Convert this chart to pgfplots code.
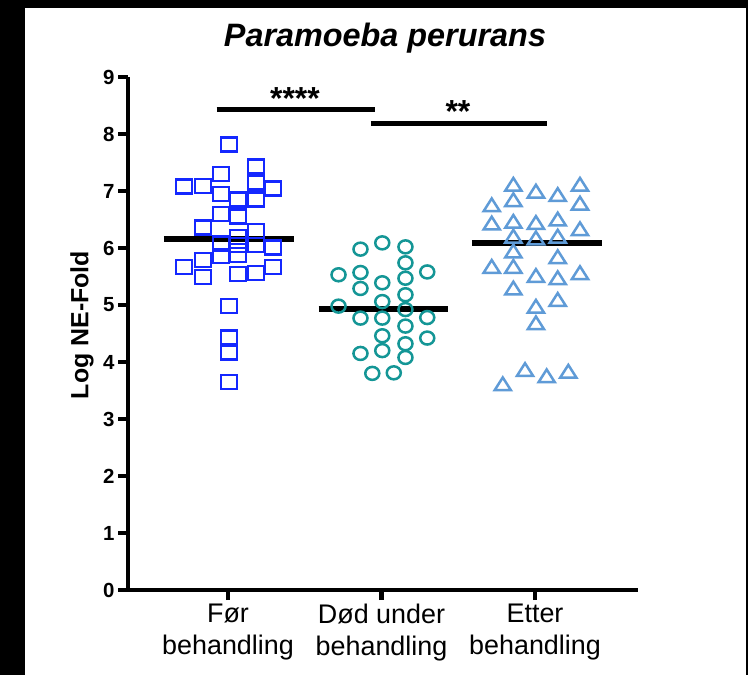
\documentclass[border=0pt]{standalone}
\usepackage{fontspec}
\setmainfont{Liberation Sans}
\usepackage{pgfplots}
\pgfplotsset{compat=1.18}
\definecolor{sqblue}{RGB}{20,40,255}
\definecolor{cteal}{RGB}{20,150,150}
\definecolor{tblue}{RGB}{95,155,215}
\begin{document}
\begin{tikzpicture}
\fill[black] (0bp,0bp) rectangle (748bp,675bp);
\fill[white] (25bp,0bp) rectangle (746bp,667bp);
\begin{axis}[
  at={(128bp,85bp)}, anchor=south west,
  scale only axis, width=510bp, height=513bp,
  xmin=0.3485, xmax=3.671, ymin=0, ymax=9,
  axis x line=bottom, axis y line=left,
  axis line style={line width=4.5bp,-},
  xtick={1,2,3},
  xticklabels={{Før\\behandling},{Død under\\behandling},{Etter\\behandling}},
  xticklabel style={align=center, font=\fontsize{27}{33}\selectfont},
  ytick={0,1,...,9},
  yticklabel style={font=\fontsize{20.5}{24}\selectfont\bfseries},
  /pgf/number format/assume math mode=true,
  tick align=outside, major tick length=10bp,
  tick style={line width=4.5bp, black},
  clip=false,
]
\addplot[only marks, mark=square, mark size=7bp, mark options={xscale=1.15, line width=2.5bp, draw=sqblue, fill=none}] coordinates {
(1.007,7.82) (1.182,7.43) (0.954,7.30) (1.182,7.15) (0.713,7.08) (0.837,7.09)
(1.293,7.04) (0.954,6.95) (1.065,6.85) (1.182,6.85) (0.954,6.60) (1.065,6.55)
(0.837,6.36) (1.182,6.30) (0.954,6.08) (1.065,6.19) (1.065,6.05) (1.182,6.05)
(1.293,6.01) (0.954,5.86) (1.065,5.88) (0.837,5.79) (0.713,5.67) (1.293,5.67)
(0.837,5.49) (1.065,5.54) (1.182,5.56) (1.007,4.98) (1.007,4.43) (1.007,4.17)
(1.007,3.65)};
\addplot[only marks, mark=o, mark size=6.5bp, mark options={xscale=1.08, line width=2.5bp, draw=cteal, fill=none}] coordinates {
(2.005,6.09) (1.863,5.98) (2.156,6.02) (2.156,5.74) (1.72,5.53) (1.863,5.57)
(2.298,5.58) (2.156,5.47) (2.005,5.39) (1.863,5.29) (2.156,5.18) (2.005,5.06)
(1.72,4.98) (2.156,4.92) (1.863,4.77) (2.005,4.77) (2.298,4.78) (2.156,4.63)
(2.005,4.46) (2.298,4.42) (2.156,4.32) (1.863,4.15) (2.005,4.20) (2.156,4.08)
(1.94,3.80) (2.08,3.81)};
\addplot[only marks, mark=triangle, mark size=8.5bp, mark options={xscale=1.1, line width=2.5bp, draw=tblue, fill=none}] coordinates {
(2.859,7.08) (3.293,7.08) (3.006,6.96) (3.148,6.90) (2.718,6.72) (2.859,6.81)
(3.293,6.75) (2.718,6.40) (2.859,6.43) (3.006,6.41) (3.148,6.47) (3.293,6.30)
(2.859,6.17) (3.006,6.14) (3.148,6.17) (2.859,5.91) (3.148,5.81) (2.718,5.64)
(2.859,5.64) (3.006,5.48) (3.148,5.44) (3.293,5.53) (2.859,5.26) (3.148,5.06)
(3.006,4.94) (3.006,4.65) (2.935,3.83) (3.076,3.72) (3.217,3.80) (2.79,3.58)};
\addplot[black, line width=6bp] coordinates {(0.583,6.16) (1.43,6.16)};
\addplot[black, line width=6bp] coordinates {(1.59,4.93) (2.43,4.93)};
\addplot[black, line width=6bp] coordinates {(2.588,6.08) (3.435,6.08)};
\addplot[black, line width=5bp] coordinates {(0.926,8.43) (1.958,8.43)};
\addplot[black, line width=5bp] coordinates {(1.930,8.19) (3.076,8.19)};
\node[font=\bfseries\fontsize{32}{32}\selectfont] at (axis cs:1.436,8.62) {****};
\node[font=\bfseries\fontsize{32}{32}\selectfont] at (axis cs:2.498,8.39) {**};
\end{axis}
\node[rotate=90, font=\bfseries\fontsize{25}{25}\selectfont] at (82bp,350bp) {Log NE-Fold};
\node[font=\bfseries\itshape\fontsize{32.5}{32.5}\selectfont, anchor=base] at (385bp,628bp) {Paramoeba perurans};
\pgfresetboundingbox
\path[use as bounding box] (0bp,0bp) rectangle (748bp,675bp);
\end{tikzpicture}
\end{document}
